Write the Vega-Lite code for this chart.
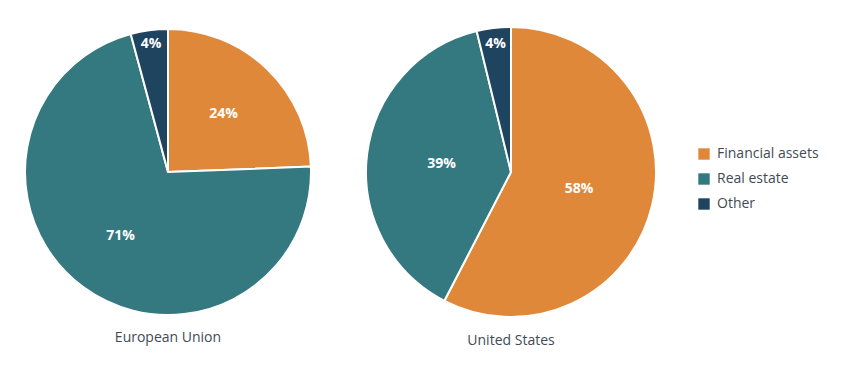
{
  "$schema": "https://vega.github.io/schema/vega-lite/v6.json",
  "background": "white",
  "padding": {"left": 18, "top": 22, "right": 0, "bottom": 0},
  "datasets": {
    "shares": [
      {"region": "European Union", "asset": "Financial assets", "k": 1, "value": 24.4},
      {"region": "European Union", "asset": "Real estate", "k": 2, "value": 71.4},
      {"region": "European Union", "asset": "Other", "k": 3, "value": 4.2},
      {"region": "United States", "asset": "Financial assets", "k": 1, "value": 57.6},
      {"region": "United States", "asset": "Real estate", "k": 2, "value": 38.6},
      {"region": "United States", "asset": "Other", "k": 3, "value": 3.8}
    ]
  },
  "config": {
    "view": {"stroke": null},
    "font": "Open Sans",
    "concat": {"spacing": 43},
    "legend": {
      "orient": "none",
      "legendX": 679,
      "legendY": 125,
      "labelFont": "Open Sans",
      "labelFontSize": 14,
      "labelColor": "#3f4a55",
      "symbolType": "square",
      "symbolSize": 130,
      "symbolStrokeWidth": 0,
      "rowPadding": 11,
      "labelOffset": 6
    }
  },
  "hconcat": [
    {
      "width": 300,
      "height": 300,
      "title": {"text": "European Union", "orient": "bottom", "offset": 9, "fontSize": 14, "fontWeight": "normal", "font": "Open Sans", "color": "#3f4a55"},
      "data": {"name": "shares"},
      "transform": [
        {"filter": "datum.region === 'European Union'"},
        {"calculate": "format(datum.value, '.0f') + '%'", "as": "label"}
      ],
      "encoding": {
        "theta": {"field": "value", "type": "quantitative", "stack": true},
        "order": {"field": "k", "type": "quantitative"},
        "color": {
          "field": "asset", "type": "nominal",
          "scale": {"domain": ["Financial assets", "Real estate", "Other"], "range": ["#E0883A", "#347880", "#1F4460"]},
          "legend": {"title": null}
        }
      },
      "layer": [
        {"mark": {"type": "arc", "outerRadius": 143, "stroke": "white", "strokeWidth": 2}},
        {
          "mark": {"type": "text", "radius": 80, "fontWeight": "bold", "fontSize": 14, "font": "Open Sans"},
          "encoding": {"text": {"condition": {"test": "datum.value >= 10", "field": "label"}, "value": ""}, "color": {"value": "white"}}
        },
        {
          "mark": {"type": "text", "radius": 129, "fontWeight": "bold", "fontSize": 14, "font": "Open Sans"},
          "encoding": {"text": {"condition": {"test": "datum.value < 10", "field": "label"}, "value": ""}, "color": {"value": "white"}}
        }
      ]
    },
    {
      "width": 300,
      "height": 300,
      "title": {"text": "United States", "orient": "bottom", "offset": 12, "fontSize": 14, "fontWeight": "normal", "font": "Open Sans", "color": "#3f4a55"},
      "data": {"name": "shares"},
      "transform": [
        {"filter": "datum.region === 'United States'"},
        {"calculate": "format(datum.value, '.0f') + '%'", "as": "label"}
      ],
      "encoding": {
        "theta": {"field": "value", "type": "quantitative", "stack": true},
        "order": {"field": "k", "type": "quantitative"},
        "color": {
          "field": "asset", "type": "nominal",
          "scale": {"domain": ["Financial assets", "Real estate", "Other"], "range": ["#E0883A", "#347880", "#1F4460"]},
          "legend": {"title": null}
        }
      },
      "layer": [
        {"mark": {"type": "arc", "outerRadius": 145, "stroke": "white", "strokeWidth": 2}},
        {
          "mark": {"type": "text", "radius": 70, "fontWeight": "bold", "fontSize": 14, "font": "Open Sans"},
          "encoding": {"text": {"condition": {"test": "datum.value >= 10", "field": "label"}, "value": ""}, "color": {"value": "white"}}
        },
        {
          "mark": {"type": "text", "radius": 129, "fontWeight": "bold", "fontSize": 14, "font": "Open Sans"},
          "encoding": {"text": {"condition": {"test": "datum.value < 10", "field": "label"}, "value": ""}, "color": {"value": "white"}}
        }
      ]
    }
  ]
}
